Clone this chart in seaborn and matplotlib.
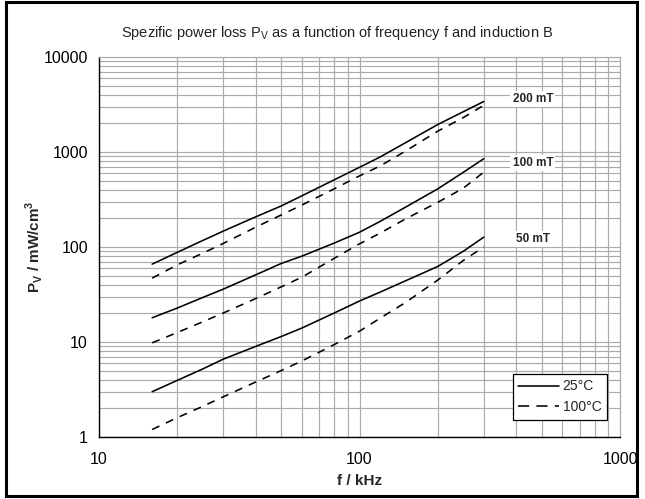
import matplotlib
matplotlib.use("Agg")
import matplotlib.pyplot as plt
from matplotlib.lines import Line2D
from matplotlib.patches import Rectangle
from matplotlib.ticker import FixedLocator, FixedFormatter, NullFormatter, LogLocator
import numpy as np
import pandas as pd
import seaborn as sns

# Frequency grid (kHz)
freq_khz = [16, 20, 25, 30, 40, 50, 60, 80, 100, 120, 150, 200, 250, 300]

# Specific power loss (mW/cm^3) per induction and temperature
p_200mT_25C = [66, 88, 117, 147, 208, 270, 345, 510, 690, 886, 1250, 1950, 2650, 3400]
p_200mT_100C = [47, 65, 86, 109, 162, 217, 276, 410, 560, 713, 1020, 1660, 2300, 3100]
p_100mT_25C = [18, 22.8, 29.4, 36, 51, 67, 80, 110, 143, 186, 262, 410, 610, 850]
p_100mT_100C = [9.8, 12.6, 16.3, 20.2, 28.7, 38, 48, 76, 108, 140, 197, 296, 415, 615]
p_50mT_25C = [3.0, 3.95, 5.2, 6.6, 9.0, 11.4, 14, 20.2, 27, 33.5, 44, 62.5, 90, 127]
p_50mT_100C = [1.2, 1.6, 2.1, 2.65, 3.8, 5.0, 6.3, 9.4, 13, 17.8, 26, 45, 72, 100]

inductions = ["200 mT", "100 mT", "50 mT"]
temperatures = ["25°C", "100°C"]
y_ticks = [1, 10, 100, 1000, 10000]
y_tick_labels = ["1", "10", "100", "1000", "10000"]
x_ticks = [10, 100, 1000]
x_tick_labels = ["10", "100", "1000"]

series = {
    ("200 mT", "25°C"): p_200mT_25C,
    ("200 mT", "100°C"): p_200mT_100C,
    ("100 mT", "25°C"): p_100mT_25C,
    ("100 mT", "100°C"): p_100mT_100C,
    ("50 mT", "25°C"): p_50mT_25C,
    ("50 mT", "100°C"): p_50mT_100C,
}

rows = []
for (b, t), vals in series.items():
    for f, p in zip(freq_khz, vals):
        rows.append({"f": f, "P": p, "B": b, "T": t, "curve": f"{b} {t}"})
df = pd.DataFrame(rows)

sns.set_theme(style="white")
plt.rcParams["font.family"] = ["Liberation Sans", "DejaVu Sans"]

fig = plt.figure(figsize=(6.45, 4.99), dpi=100)
fig.patch.set_facecolor("white")
W, H = 645, 499
ax_left, ax_right, ax_top, ax_bottom = 99, 620, 57, 437
ax = fig.add_axes([ax_left / W, 1 - ax_bottom / H, (ax_right - ax_left) / W, (ax_bottom - ax_top) / H])

line_w = 1.15
dash_pattern = (5.0, 4.5)
sns.lineplot(
    data=df, x="f", y="P", style="T", units="curve", estimator=None,
    color="black", linewidth=line_w, sort=True,
    dashes={"25°C": "", "100°C": dash_pattern},
    style_order=temperatures, legend=False, ax=ax,
)

ax.set_xscale("log")
ax.set_yscale("log")
ax.set_xlim(10, 1000)
ax.set_ylim(1, 10000)

ax.xaxis.set_major_locator(FixedLocator(x_ticks))
ax.xaxis.set_major_formatter(FixedFormatter(x_tick_labels))
ax.yaxis.set_major_locator(FixedLocator(y_ticks))
ax.yaxis.set_major_formatter(FixedFormatter(y_tick_labels))
ax.xaxis.set_minor_locator(LogLocator(base=10, subs=np.arange(2, 10)))
ax.yaxis.set_minor_locator(LogLocator(base=10, subs=np.arange(2, 10)))
ax.xaxis.set_minor_formatter(NullFormatter())
ax.yaxis.set_minor_formatter(NullFormatter())

grid_color = "#ababab"
ax.grid(True, which="major", color=grid_color, linewidth=0.85)
ax.grid(True, which="minor", color=grid_color, linewidth=0.85)
ax.set_axisbelow(True)

ax.tick_params(axis="both", which="major", direction="out", length=4, width=0.8,
               color="black", labelsize=11.5, pad=4, labelcolor="black")
ax.tick_params(axis="both", which="minor", length=0)
ax.tick_params(axis="x", pad=7)

for side in ("left", "bottom"):
    ax.spines[side].set_color("black")
    ax.spines[side].set_linewidth(1.0)
for side in ("top", "right"):
    ax.spines[side].set_color(grid_color)
    ax.spines[side].set_linewidth(0.85)

ax.set_xlabel("f / kHz", fontsize=11, fontweight="bold", labelpad=5)
ax.set_ylabel(r"P$_\mathregular{V}$ / mW/cm$^\mathregular{3}$", fontsize=11, fontweight="bold",
              va="center")
ax.yaxis.set_label_coords((34 - ax_left) / (ax_right - ax_left), 0.5)

# Induction labels next to the curve ends
label_pos = {"200 mT": (387, 3610), "100 mT": (387, 766), "50 mT": (400, 121)}
for b in inductions:
    x, y = label_pos[b]
    ax.text(x, y, b, fontsize=8.5, fontweight="bold", ha="left", va="center",
            bbox=dict(facecolor="white", edgecolor="none", pad=1.5))

handles = [
    Line2D([], [], color="black", linewidth=line_w, linestyle="-"),
    Line2D([], [], color="black", linewidth=line_w, linestyle=(0, (7, 4.5))),
]
leg = ax.legend(handles, temperatures, loc="lower right", bbox_to_anchor=(0.975, 0.045),
                borderaxespad=0, frameon=True, fancybox=False, framealpha=1,
                fontsize=10, handlelength=2.9, handletextpad=0.3,
                borderpad=0.4, labelspacing=0.5)
leg.get_frame().set_edgecolor("black")
leg.get_frame().set_linewidth(0.9)

fig.text(337 / W, 1 - 33 / H,
         r"Spezific power loss P$_\mathregular{V}$ as a function of frequency f and induction B",
         ha="center", va="center", fontsize=10.5, color="#222222")

# Outer chart frame
fig.add_artist(Rectangle((6 / W, 3 / H), (637 - 6) / W, 494 / H, transform=fig.transFigure,
                         fill=False, edgecolor="black", linewidth=2.2))

fig.savefig("out.png", dpi=100, facecolor="white")
